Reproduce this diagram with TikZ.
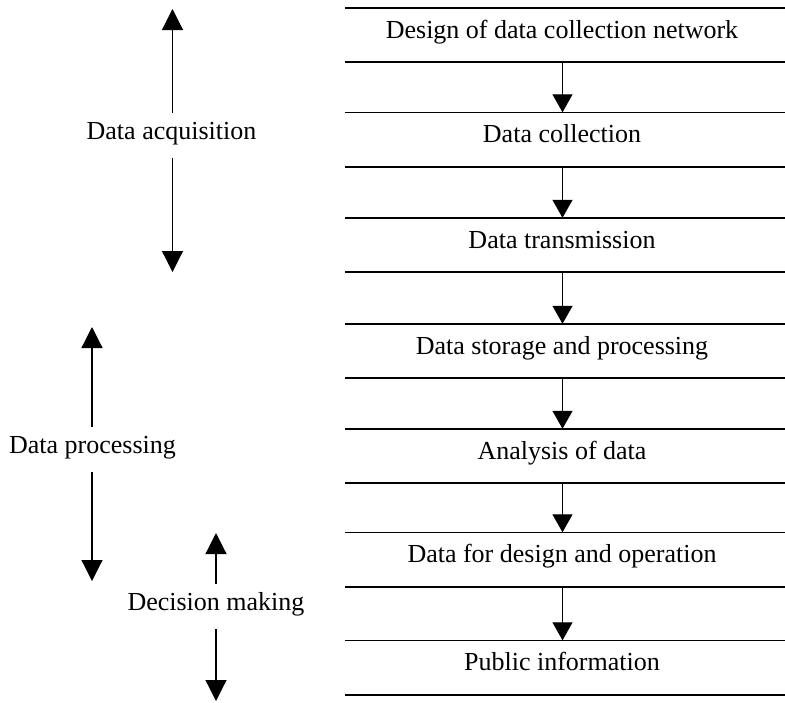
\documentclass[tikz,border=0pt]{standalone}
\usepackage{fontspec}
\setmainfont{Liberation Serif}
\usetikzlibrary{arrows.meta}

\begin{document}
\begin{tikzpicture}[x=1pt, y=-1pt,
  every node/.style={font=\fontsize{26}{30}\selectfont},
  band/.style={minimum width=440pt, minimum height=54pt, inner sep=0pt,
    text height=18pt, text depth=12pt, anchor=center},
  bandline/.style={line width=1.6pt},
  flow/.style={line width=1.2pt, -{Triangle[length=18pt, width=20pt]}},
  span/.style={line width=1.2pt, -{Triangle[length=21pt, width=21pt]}},
  phase/.style={inner sep=0pt, text height=26pt, text depth=19pt, anchor=base}]

  \useasboundingbox (0,0) rectangle (785,702);

  % process stages
  \node[band] (b1) at (565,35)    {\hspace*{-6pt}Design of data collection network};
  \node[band] (b2) at (565,139.5) {\hspace*{-6pt}Data collection};
  \node[band] (b3) at (565,245)   {\hspace*{-6pt}Data transmission};
  \node[band] (b4) at (565,351)   {\hspace*{-6pt}Data storage and processing};
  \node[band] (b5) at (565,456)   {\hspace*{-6pt}Analysis of data};
  \node[band] (b6) at (565,559.5) {\hspace*{-6pt}Data for design and operation};
  \node[band] (b7) at (565,667.5) {\hspace*{-6pt}Public information};

  \foreach \n in {b1,b2,b3,b4,b5,b6,b7} {
    \draw[bandline] (\n.north west) -- (\n.north east);
    \draw[bandline] (\n.south west) -- (\n.south east);
  }

  % arrows between stages
  \foreach \a/\b in {b1/b2,b2/b3,b3/b4,b4/b5,b5/b6,b6/b7} {
    \draw[flow] ([xshift=-2.5pt]\a.south) -- ([xshift=-2.5pt]\b.north);
  }

  % phases with their extent
  \node[phase] (pa) at (171.5,139) {Data acquisition};
  \coordinate (pa-top) at (172.5,9);
  \coordinate (pa-bot) at (172.5,272);
  \draw[span] (pa.north -| pa-top) -- (pa-top);
  \draw[span] (pa.south -| pa-bot) -- (pa-bot);

  \node[phase] (pp) at (92.5,453) {Data processing};
  \coordinate (pp-top) at (92,327);
  \coordinate (pp-bot) at (92,581);
  \draw[span] (pp.north -| pp-top) -- (pp-top);
  \draw[span] (pp.south -| pp-bot) -- (pp-bot);

  \node[phase] (pd) at (216,610) {Decision making};
  \coordinate (pd-top) at (216,533);
  \coordinate (pd-bot) at (216,701);
  \draw[span] (pd.north -| pd-top) -- (pd-top);
  \draw[span] (pd.south -| pd-bot) -- (pd-bot);
\end{tikzpicture}
\end{document}
